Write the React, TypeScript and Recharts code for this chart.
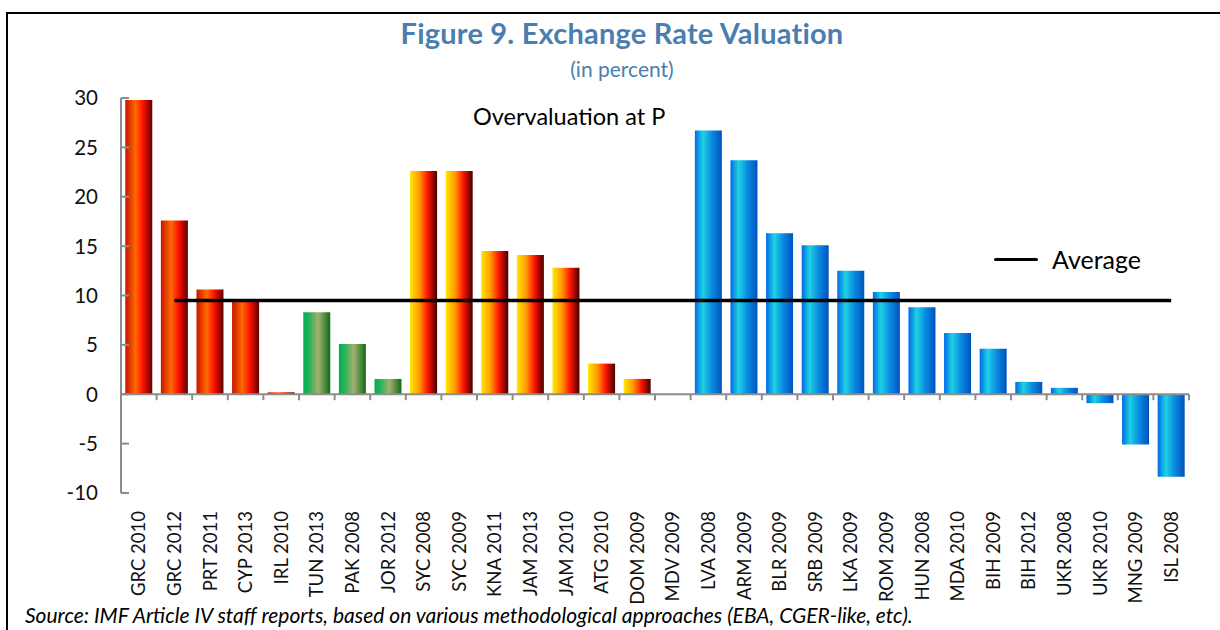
import React from 'react';
import { ComposedChart, Bar, Line, XAxis, YAxis, Cell, ReferenceLine } from 'recharts';

const categories = ['GRC 2010','GRC 2012','PRT 2011','CYP 2013','IRL 2010','TUN 2013','PAK 2008','JOR 2012','SYC 2008','SYC 2009','KNA 2011','JAM 2013','JAM 2010','ATG 2010','DOM 2009','MDV 2009','LVA 2008','ARM 2009','BLR 2009','SRB 2009','LKA 2009','ROM 2009','HUN 2008','MDA 2010','BIH 2009','BIH 2012','UKR 2008','UKR 2010','MNG 2009','ISL 2008'];
const overvaluation = [29.8,17.6,10.6,9.5,0.2,8.3,5.1,1.55,22.6,22.6,14.5,14.1,12.8,3.1,1.55,0,26.7,23.7,16.3,15.1,12.5,10.35,8.8,6.2,4.6,1.25,0.65,-0.9,-5.1,-8.35];
const groups = ['red','red','red','red','red','green','green','green','yellow','yellow','yellow','yellow','yellow','yellow','yellow','yellow','blue','blue','blue','blue','blue','blue','blue','blue','blue','blue','blue','blue','blue','blue'];
const averageValue = 9.5;
const yTicks = [-10,-5,0,5,10,15,20,25,30];
const boundaries = [1,2,3,4,5,6,7,8,9,10,11,12,13,14,15,16,17,18,19,20,21,22,23,24,25,26,27,28,29,30];

const data = categories.map((c, i) => ({
  name: c,
  value: overvaluation[i],
  avg: i === 0 ? null : averageValue,
  idx: i + 0.5,
}));

const FONT = 'Lato, "Open Sans", sans-serif';

const XTick = (props: any) => {
  const { x, y, payload } = props;
  return (
    <text x={x} y={y} transform={`rotate(-90, ${x}, ${y})`} textAnchor="end" dy="0.36em" fontSize={18.5} fill="#111" fontFamily={FONT}>
      {payload.value}
    </text>
  );
};

const YTick = (props: any) => {
  const { x, y, payload } = props;
  return (
    <g>
      <line x1={x} x2={x + 8} y1={y} y2={y} stroke="#8c8c8c" strokeWidth={2} />
      <text x={x - 23} y={y} textAnchor="end" dy="0.36em" fontSize={20.5} fill="#111" fontFamily={FONT}>
        {payload.value}
      </text>
    </g>
  );
};

export default function App() {
  return (
    <div style={{ position: 'absolute', left: 0, top: 0, width: 1220, height: 630, overflow: 'hidden', background: '#fff', fontFamily: FONT }}>
      <div style={{ position: 'absolute', left: 6, top: 12, width: 1240, height: 660, border: '2.5px solid #000', boxSizing: 'border-box' }} />
      <div style={{ position: 'absolute', left: 0, width: 1244, top: 15, textAlign: 'center', color: '#4A7EB0', fontWeight: 700, fontSize: 29, letterSpacing: 0.2 }}>
        Figure 9. Exchange Rate Valuation
      </div>
      <div style={{ position: 'absolute', left: 0, width: 1244, top: 56, textAlign: 'center', color: '#4A7EB0', fontSize: 21 }}>
        (in percent)
      </div>
      <ComposedChart
        width={1220}
        height={630}
        data={data}
        margin={{ top: 98, right: 31, bottom: 37, left: 61 }}
        barCategoryGap="12%"
        style={{ position: 'absolute', left: 0, top: 0 }}
      >
        <defs>
          <linearGradient id="g-red" x1="0" y1="0" x2="1" y2="0">
            <stop offset="0%" stopColor="#C81400" />
            <stop offset="38%" stopColor="#FF6A00" />
            <stop offset="65%" stopColor="#FF1200" />
            <stop offset="100%" stopColor="#600000" />
          </linearGradient>
          <linearGradient id="g-green" x1="0" y1="0" x2="1" y2="0">
            <stop offset="0%" stopColor="#00B050" />
            <stop offset="20%" stopColor="#22B258" />
            <stop offset="55%" stopColor="#A2B070" />
            <stop offset="100%" stopColor="#0E6B16" />
          </linearGradient>
          <linearGradient id="g-yellow" x1="0" y1="0" x2="1" y2="0">
            <stop offset="0%" stopColor="#FFE800" />
            <stop offset="35%" stopColor="#FF9800" />
            <stop offset="65%" stopColor="#FF1400" />
            <stop offset="100%" stopColor="#480000" />
          </linearGradient>
          <linearGradient id="g-blue" x1="0" y1="0" x2="1" y2="0">
            <stop offset="0%" stopColor="#0068E8" />
            <stop offset="30%" stopColor="#1ED2E2" />
            <stop offset="62%" stopColor="#0A8CE2" />
            <stop offset="100%" stopColor="#0052BE" />
          </linearGradient>
        </defs>
        <XAxis
          dataKey="name"
          xAxisId="cat"
          interval={0}
          axisLine={false}
          tickLine={false}
          tickSize={0}
          tickMargin={18}
          height={100}
          tick={<XTick />}
        />
        <XAxis xAxisId="num" type="number" dataKey="idx" domain={[0, 30]} hide allowDataOverflow />
        <YAxis
          domain={[-10, 30]}
          ticks={yTicks}
          width={60}
          axisLine={{ stroke: '#8c8c8c', strokeWidth: 2 }}
          tickLine={false}
          tickSize={0}
          tickMargin={0}
          interval={0}
          tick={<YTick />}
        />
        <Bar dataKey="value" xAxisId="cat" isAnimationActive={false}>
          {data.map((d, i) => (
            <Cell key={d.name} fill={`url(#g-${groups[i]})`} />
          ))}
        </Bar>
        <ReferenceLine y={0} xAxisId="cat" stroke="#8c8c8c" strokeWidth={2} />
        {boundaries.map((b) => (
          <ReferenceLine
            key={b}
            xAxisId="num"
            segment={[{ x: b, y: 0 }, { x: b, y: -0.6 }]}
            stroke="#8c8c8c"
            strokeWidth={2}
          />
        ))}
        <Line
          dataKey="avg"
          xAxisId="cat"
          type="linear"
          stroke="#000"
          strokeWidth={3.5}
          dot={false}
          activeDot={false}
          connectNulls={false}
          isAnimationActive={false}
        />
      </ComposedChart>
      <div style={{ position: 'absolute', left: 473, top: 102, fontSize: 23.5, color: '#000', whiteSpace: 'nowrap' }}>
        Overvaluation at P
      </div>
      <div style={{ position: 'absolute', left: 994, top: 244, display: 'flex', alignItems: 'center', whiteSpace: 'nowrap' }}>
        <div style={{ width: 44, height: 3, background: '#000', borderRadius: 2 }} />
        <span style={{ fontSize: 25, color: '#000', marginLeft: 14 }}>Average</span>
      </div>
      <div style={{ position: 'absolute', left: 25, top: 602, fontSize: 21, lineHeight: '26px', fontStyle: 'italic', color: '#000', whiteSpace: 'nowrap' }}>
        Source: IMF Article IV staff reports, based on various methodological approaches (EBA, CGER-like, etc).
      </div>
    </div>
  );
}
